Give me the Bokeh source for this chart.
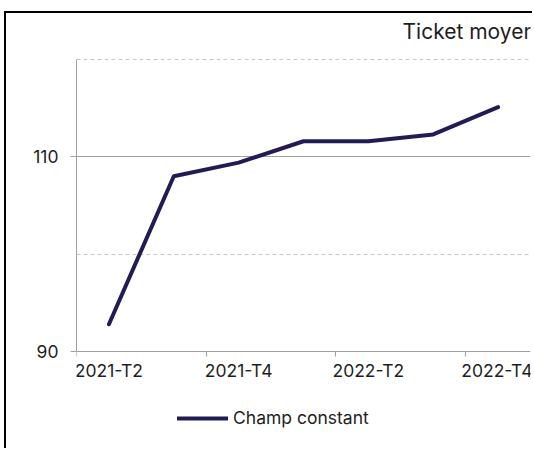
from bokeh.plotting import figure
from bokeh.models import (Range1d, FixedTicker, LinearAxis, Grid, Legend, LegendItem,
                          Label, ColumnDataSource)
from bokeh.embed import file_html
from bokeh.resources import INLINE

categories = ["2021-T2", "2021-T3", "2021-T4", "2022-T1", "2022-T2", "2022-T3", "2022-T4"]
values = [92.8, 108.0, 109.4, 111.6, 111.6, 112.3, 115.1]
label_every = 2
y_labels = [90, 110]
y_grid_solid = [110]
y_grid_dashed = [100, 120]
y_min, y_max = 90, 120
series_name = "Champ constant"
title_text = "Ticket moyen"

FONT = "Inter"
TXT = "#1e1e1e"
AXC = "#a0a0a0"
LINEC = "#221c54"

xs = list(range(len(categories)))
src = ColumnDataSource(dict(x=xs, y=values))

# the frame covers the whole chart box so that title and legend (drawn inside it) show;
# the value axis is bounded to 90-120 and the category axis is pinned at 90
p = figure(width=528, height=437, output_backend="svg", toolbar_location=None,
           x_range=Range1d(-0.5, len(categories) - 0.5), y_range=Range1d(80.03, 124.52),
           min_border_left=70, min_border_right=4, min_border_top=2, min_border_bottom=2)
# outer chart frame: only its left and top edges fall inside the picture
p.styles = {"margin-top": "11px", "margin-left": "4px",
            "border-top": "2px solid black", "border-left": "2px solid black"}
p.outline_line_color = None
p.background_fill_color = "white"
p.border_fill_color = "white"

# x axis: tick marks at category boundaries
xa = p.xaxis[0]
xa.fixed_location = y_min
xa.ticker = FixedTicker(ticks=[i - 0.5 for i in xs[::label_every]])
xa.major_label_text_font_size = "1px"
xa.major_label_text_alpha = 0
xa.major_label_standoff = 0
xa.axis_line_color = AXC
xa.major_tick_line_color = AXC
xa.major_tick_out = 5
xa.major_tick_in = 0
xa.minor_tick_line_color = None

# x labels at category centres
xl = LinearAxis(ticker=FixedTicker(ticks=xs[::label_every]), fixed_location=y_min,
                major_label_overrides={i: categories[i] for i in xs[::label_every]})
xl.axis_line_color = None
xl.major_tick_line_color = None
xl.major_tick_out = 0
xl.major_tick_in = 0
xl.minor_tick_line_color = None
xl.major_label_standoff = 9
xl.major_label_text_font = FONT
xl.major_label_text_font_size = "17.5px"
xl.major_label_text_color = TXT
p.add_layout(xl, "below")

ya = p.yaxis[0]
ya.bounds = (y_min, y_max)
ya.ticker = FixedTicker(ticks=y_labels)
ya.axis_line_color = AXC
ya.major_tick_line_color = AXC
ya.major_tick_out = 6
ya.major_tick_in = 0
ya.minor_tick_line_color = None
ya.major_label_standoff = 12
ya.major_label_text_font = FONT
ya.major_label_text_font_size = "17.5px"
ya.major_label_text_color = TXT

p.xgrid.grid_line_color = None
p.ygrid.ticker = FixedTicker(ticks=y_grid_solid)
p.ygrid.grid_line_color = AXC
p.ygrid.grid_line_width = 1
g2 = Grid(dimension=1, ticker=FixedTicker(ticks=y_grid_dashed),
          grid_line_color="#c8c8c8", grid_line_dash="4 3", grid_line_width=1)
p.add_layout(g2)

r = p.line("x", "y", source=src, line_color=LINEC, line_width=4,
           line_cap="round", line_join="round")

leg = Legend(items=[LegendItem(label=series_name, renderers=[r])],
             location=(101, 20), orientation="horizontal",
             glyph_width=51, glyph_height=20, label_standoff=5,
             padding=0, margin=0, border_line_color=None, background_fill_alpha=0,
             label_text_font=FONT, label_text_font_size="17.5px", label_text_color=TXT)
p.add_layout(leg, "center")

title = Label(x=326, y=417, x_units="screen", y_units="screen", text=title_text,
              text_font=FONT, text_font_size="21px", text_color=TXT,
              text_align="left", text_baseline="middle")
p.add_layout(title)

open("out.html", "w").write(file_html(p, INLINE))
